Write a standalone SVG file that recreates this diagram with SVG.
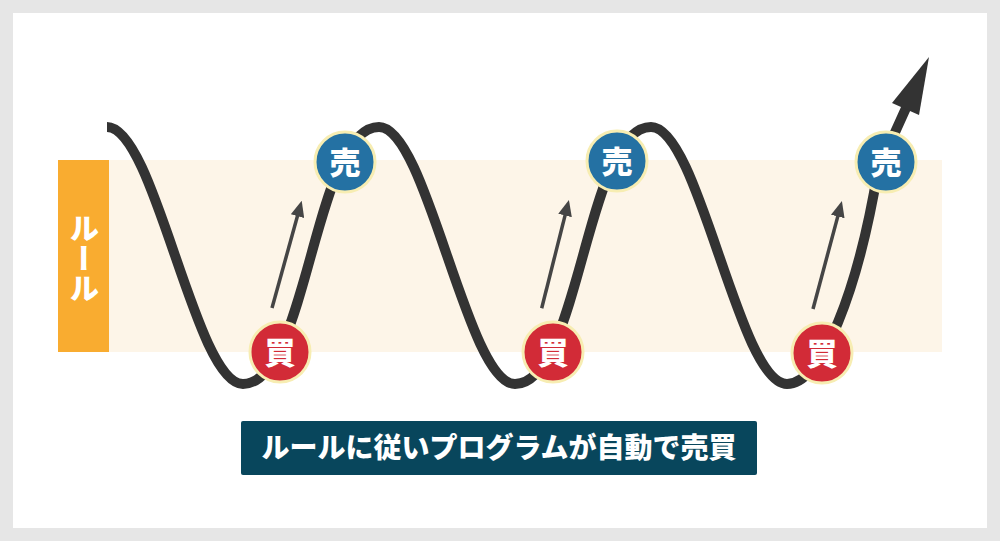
<svg xmlns="http://www.w3.org/2000/svg" width="1000" height="541" viewBox="0 0 1000 541">
<defs>
<style>
.jp{font-family:"Noto Sans CJK JP","Noto Sans",sans-serif;font-weight:900;fill:#ffffff;text-anchor:middle}
.buy{fill:#d22b37;stroke:#f7edb2;stroke-width:3}
.sell{fill:#2471a3;stroke:#f7edb2;stroke-width:3}
.mini{stroke:#454545;stroke-width:3.5;fill:none;marker-end:url(#mh)}
</style>
<marker id="mh" markerUnits="userSpaceOnUse" markerWidth="16" markerHeight="14" refX="4" refY="7" orient="auto" viewBox="0 0 16 14">
<path d="M0,0 L16,7 L0,14 z" fill="#454545"/>
</marker>
</defs>
<rect x="0" y="0" width="1000" height="541" fill="#e6e6e6"/>
<rect x="13" y="13" width="974" height="515" fill="#ffffff"/>
<g id="band">
<rect x="109" y="160" width="833" height="192" fill="#fdf5e8"/>
</g>
<g id="rule">
<rect x="58" y="160" width="51" height="192" fill="#f9ac30"/>
<text class="jp" x="84" y="258" font-size="30" style="writing-mode:vertical-rl;dominant-baseline:central">ルール</text>
</g>
<g id="connectors">
<path d="M107,127 C155,127 195,384 243,384 C308,384 314,127 379,127 C427,127 467,384 515,384 C580,384 586,127 651,127 C699,127 739,384 787,384 C822,384 858,290 878,170 L906,108" fill="none" stroke="#333333" stroke-width="10" stroke-linejoin="round"/>
<polygon points="929,57 892,103 919,115" fill="#333333"/>
<line class="mini" x1="272" y1="308" x2="298.5" y2="212.3"/>
<line class="mini" x1="541.7" y1="308.3" x2="566" y2="211.6"/>
<line class="mini" x1="813" y1="309" x2="838.8" y2="212.6"/>
</g>
<g id="buy1"><circle class="buy" cx="280" cy="352" r="30"/><text class="jp" x="280" y="363.5" font-size="31">買</text></g>
<g id="sell1"><circle class="sell" cx="345" cy="162" r="30"/><text class="jp" x="345" y="173.5" font-size="31">売</text></g>
<g id="buy2"><circle class="buy" cx="553" cy="352" r="30"/><text class="jp" x="553" y="363.5" font-size="31">買</text></g>
<g id="sell2"><circle class="sell" cx="617" cy="161" r="30"/><text class="jp" x="617" y="172.5" font-size="31">売</text></g>
<g id="buy3"><circle class="buy" cx="822" cy="353" r="30"/><text class="jp" x="822" y="364.5" font-size="31">買</text></g>
<g id="sell3"><circle class="sell" cx="886" cy="162" r="30"/><text class="jp" x="886" y="173.5" font-size="31">売</text></g>
<g id="caption">
<rect x="241" y="421" width="516" height="54" rx="2" fill="#08465c"/>
<text class="jp" x="499" y="458" font-size="28">ルールに従いプログラムが自動で売買</text>
</g>
</svg>
